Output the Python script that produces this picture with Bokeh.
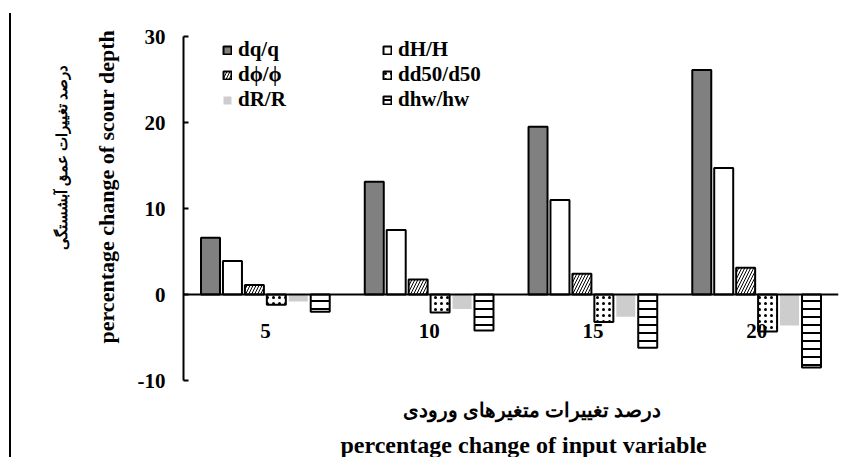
from bokeh.plotting import figure
from bokeh.models import (ColumnDataSource, Span, Legend, LegendItem,
                          FixedTicker, Title, InlineStyleSheet)
from bokeh.transform import dodge
from bokeh.core.properties import value
from bokeh.embed import file_html
from bokeh.resources import INLINE

# ---------------- data ----------------
categories = ["5", "10", "15", "20"]
dq_q = [6.6, 13.1, 19.5, 26.1]
dH_H = [3.9, 7.5, 11.0, 14.7]
dphi_phi = [1.1, 1.75, 2.4, 3.1]
dd50_d50 = [-1.2, -2.1, -3.2, -4.3]
dR_R = [-0.8, -1.7, -2.6, -3.6]
dhw_hw = [-2.0, -4.2, -6.2, -8.5]
series_names = ["dq/q", "dH/H", "dϕ/ϕ", "dd50/d50", "dR/R", "dhw/hw"]
y_ticks = [-10, 0, 10, 20, 30]

y_title_fa = "درصد تغییرات عمق آبشستگی"
y_title_en = "percentage change of scour depth"
x_title_fa = "درصد تغییرات متغیرهای ورودی"
x_title_en = "percentage change of input variable"

SERIF = "Liberation Serif"

src = ColumnDataSource(dict(cat=categories, dq=dq_q, dH=dH_H, dphi=dphi_phi,
                            dd50=dd50_d50, dR=dR_R, dhw=dhw_hw))

p = figure(width=854, height=457, x_range=categories, y_range=(-10, 30),
           output_backend="svg", toolbar_location=None,
           min_border_left=183, min_border_right=16,
           min_border_top=36, min_border_bottom=77)
p.outline_line_color = None
p.xgrid.visible = False
p.ygrid.visible = False
p.xaxis.visible = False

yax = p.yaxis[0]
yax.ticker = FixedTicker(ticks=y_ticks)
yax.major_label_overrides = {t: str(t) for t in y_ticks}
yax.minor_tick_line_color = None
yax.major_tick_in = 5
yax.major_tick_out = 0
yax.major_tick_line_width = 2
yax.axis_line_width = 2
yax.major_label_text_font = SERIF
yax.major_label_text_font_style = "bold"
yax.major_label_text_font_size = "21px"
yax.major_label_text_color = "black"
yax.major_label_standoff = 18

step = 0.134
w = 0.116
styles = [
    dict(fill_color="#808080", line_color="black", line_width=2),
    dict(fill_color="white", line_color="black", line_width=2),
    dict(fill_color="white", line_color="black", line_width=2,
         hatch_pattern="right_diagonal_line", hatch_color="black",
         hatch_scale=6, hatch_weight=1),
    dict(fill_color="white", line_color="black", line_width=2,
         hatch_pattern="dot", hatch_color="black",
         hatch_scale=6, hatch_weight=0.8),
    dict(fill_color="#cdcdcd", line_color=None),
    dict(fill_color="white", line_color="black", line_width=2,
         hatch_pattern="horizontal_line", hatch_color="black",
         hatch_scale=8, hatch_weight=2),
]
cols = ["dq", "dH", "dphi", "dd50", "dR", "dhw"]
renderers = []
for i, (c, st) in enumerate(zip(cols, styles)):
    off = (i - 2.5) * step
    r = p.vbar(x=dodge("cat", off, range=p.x_range), top=c, width=w,
               source=src, **st)
    renderers.append(r)

p.add_layout(Span(location=0, dimension="width", line_color="black",
                  line_width=2))

# category labels inside plot
lab_src = ColumnDataSource(dict(cat=categories, y=[-4.3] * len(categories)))
p.text(x="cat", y="y", text="cat", source=lab_src, text_align="center",
       text_baseline="middle", text_font=value(SERIF),
       text_font_style="bold", text_font_size="21px", text_color="black")

# legends (two columns)
def make_legend(idxs, x, y):
    items = [LegendItem(label=series_names[k], renderers=[renderers[k]])
             for k in idxs]
    lg = Legend(items=items, location=(x, y), orientation="vertical",
                padding=0, margin=0, spacing=-1, glyph_width=10,
                glyph_height=10, label_standoff=6,
                label_text_font=SERIF, label_text_font_style="bold",
                label_text_font_size="21px", label_text_color="black",
                border_line_color=None, background_fill_alpha=0)
    p.add_layout(lg)

make_legend([0, 2, 4], 39, 268)
make_legend([1, 3, 5], 199, 268)

# axis titles
def title(txt, side, standoff, align, offset, size):
    t = Title(text=txt, align=align, text_font=SERIF,
              text_font_style="bold", text_font_size=size,
              text_color="black", standoff=standoff, offset=offset)
    p.add_layout(t, side)

title(y_title_en, "left", 31, "left", 37, "22px")
title(y_title_fa, "left", 14, "left", 131, "15px")
title(" ", "below", 0, "left", 0, "6px")          # small spacer
title(x_title_fa, "below", 17, "left", 219, "20px")
title(x_title_en, "below", 0, "left", 157, "24px")

# page border line on the left (drawn with CSS)
p.stylesheets = [InlineStyleSheet(css="""
:host::after { content: ''; position: absolute; left: 9px; top: 13px;
  width: 2px; height: 444px; background: black; z-index: 10; }
""")]

open("out.html", "w").write(file_html(p, INLINE))
